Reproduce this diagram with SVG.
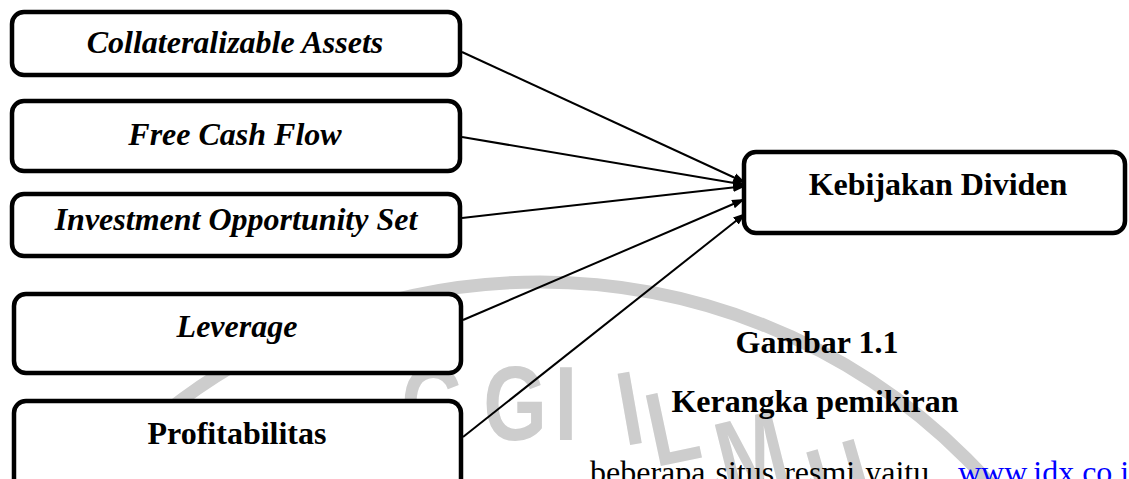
<svg xmlns="http://www.w3.org/2000/svg" width="1129" height="479" viewBox="0 0 1129 479">
  <style>
    .box { fill: #ffffff; stroke: #000000; stroke-width: 4.5; }
    .t { font-family: "Liberation Serif", "Times New Roman", serif; font-size: 32px; font-weight: bold; fill: #000000; text-anchor: middle; }
    .it { font-style: italic; }
    .body { font-family: "Liberation Serif", "Times New Roman", serif; font-size: 32px; fill: #000000; }
    .link { fill: #0000ff; text-decoration: underline; }
    .wm { font-family: "Liberation Sans", Arial, sans-serif; font-size: 105px; font-weight: bold; fill: #cdcdcd; text-anchor: middle; }
    .conn { stroke: #000000; stroke-width: 2; fill: none; marker-end: url(#arrow); }
  </style>
  <defs>
    <marker id="arrow" markerUnits="userSpaceOnUse" markerWidth="14" markerHeight="12" refX="13" refY="6" orient="auto">
      <path d="M0,1.5 L13,6 L0,10.5 Z" fill="#000000"/>
    </marker>
  </defs>
  <rect width="1129" height="479" fill="#ffffff"/>

  <g id="watermark">
    <circle cx="540" cy="885" r="603" fill="none" stroke="#cdcdcd" stroke-width="13"/>
    <text class="wm" transform="translate(433,440) scale(0.78,1)">G</text>
    <text class="wm" transform="translate(515,440) scale(0.78,1)">G</text>
    <text class="wm" transform="translate(566,440) scale(0.78,1)">I</text>
    <text class="wm" transform="translate(636,444) rotate(-10) scale(0.78,1)">I</text>
    <text class="wm" transform="translate(680,462) rotate(-12) scale(0.78,1)">L</text>
    <text class="wm" transform="translate(760,488) rotate(-14) scale(0.78,1)">M</text>
    <text class="wm" transform="translate(850,515) rotate(-16) scale(0.78,1)">U</text>
  </g>

  <g id="connectors">
    <line class="conn" x1="462" y1="52" x2="746" y2="183"/>
    <line class="conn" x1="462" y1="137" x2="746" y2="185"/>
    <line class="conn" x1="462" y1="218" x2="746" y2="186"/>
    <line class="conn" x1="463" y1="320" x2="745" y2="199"/>
    <line class="conn" x1="463" y1="437" x2="746" y2="213"/>
  </g>

  <g id="node-collateralizable">
    <rect class="box" x="12" y="12" width="448" height="63" rx="12"/>
    <text class="t it" x="235" y="53">Collateralizable Assets</text>
  </g>
  <g id="node-fcf">
    <rect class="box" x="12" y="101" width="448" height="70" rx="12"/>
    <text class="t it" x="235" y="145">Free Cash Flow</text>
  </g>
  <g id="node-ios">
    <rect class="box" x="12" y="194" width="448" height="62" rx="12"/>
    <text class="t it" x="236" y="230">Investment Opportunity Set</text>
  </g>
  <g id="node-leverage">
    <rect class="box" x="14" y="294" width="447" height="79" rx="12"/>
    <text class="t it" x="237" y="337">Leverage</text>
  </g>
  <g id="node-profitabilitas">
    <rect class="box" x="14" y="401" width="447" height="90" rx="12"/>
    <text class="t" x="237" y="444">Profitabilitas</text>
  </g>
  <g id="node-kebijakan">
    <rect class="box" x="744" y="152" width="381" height="81" rx="12"/>
    <text class="t" x="938" y="195">Kebijakan Dividen</text>
  </g>

  <g id="caption">
    <text class="t" x="817" y="353">Gambar 1.1</text>
    <text class="t" x="815" y="412">Kerangka pemikiran</text>
    <text class="body" x="590" y="483" word-spacing="2">beberapa situs resmi yaitu</text>
    <text class="body link" x="958" y="483">www.idx.co.i</text>
  </g>
</svg>
